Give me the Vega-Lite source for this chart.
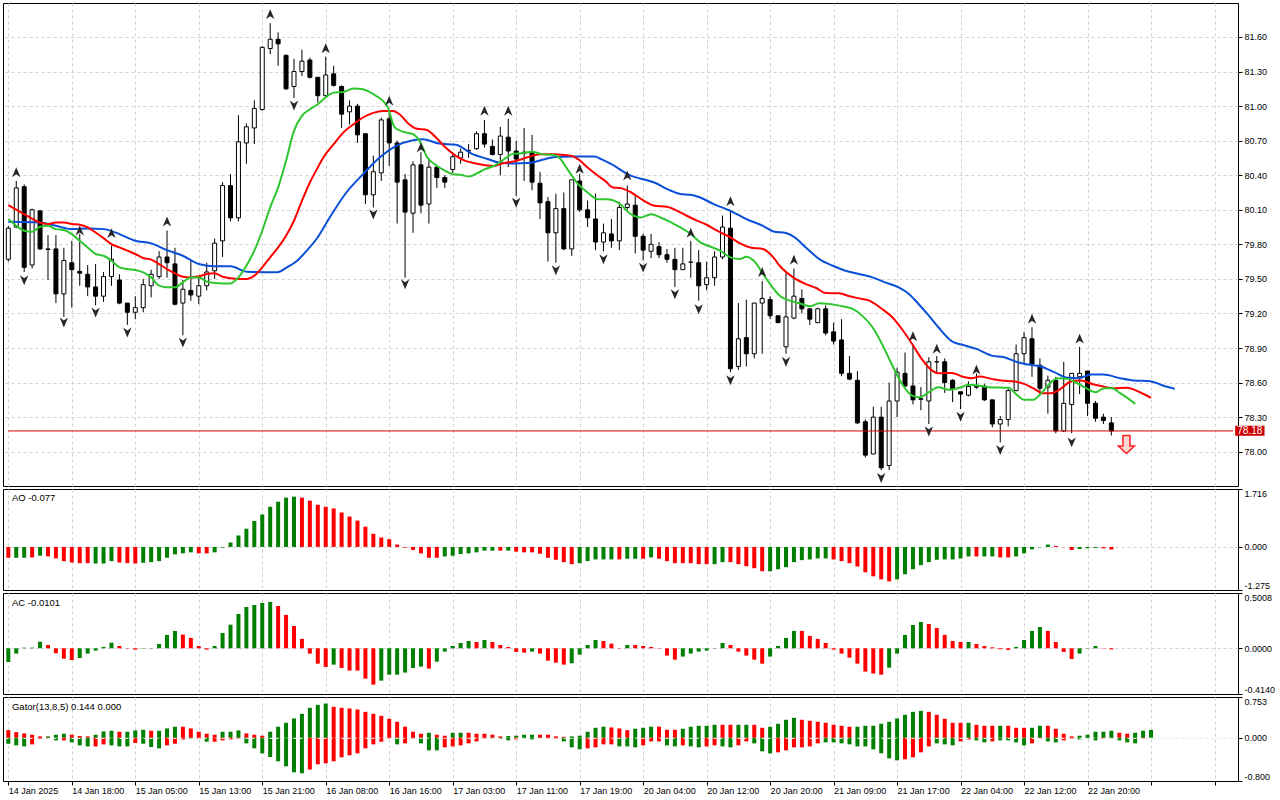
{
  "$schema": "https://vega.github.io/schema/vega-lite/v6.json",
  "background": "white",
  "padding": {"left": 2, "top": 2, "right": 0, "bottom": 0},
  "spacing": 3,
  "bounds": "flush",
  "resolve": {"scale": {"color": "independent", "shape": "independent", "x": "independent", "y": "independent"}},
  "datasets": {
    "candles": [
      {"k":0,"o":79.67,"h":79.96,"l":79.65,"c":79.94},{"k":1,"o":79.95,"h":80.35,"l":79.94,"c":80.29},{"k":2,"o":80.30,"h":80.32,"l":79.56,"c":79.60},{"k":3,"o":79.62,"h":80.11,"l":79.59,"c":80.10},
      {"k":4,"o":80.09,"h":80.10,"l":79.75,"c":79.76},{"k":5,"o":79.76,"h":79.88,"l":79.49,"c":79.755},{"k":6,"o":79.76,"h":79.88,"l":79.29,"c":79.37},{"k":7,"o":79.37,"h":79.77,"l":79.17,"c":79.66},
      {"k":8,"o":79.64,"h":79.83,"l":79.25,"c":79.58},{"k":9,"o":79.565,"h":79.89,"l":79.44,"c":79.55},{"k":10,"o":79.54,"h":79.62,"l":79.35,"c":79.43},{"k":11,"o":79.43,"h":79.63,"l":79.27,"c":79.35},
      {"k":12,"o":79.35,"h":79.56,"l":79.30,"c":79.52},{"k":13,"o":79.52,"h":79.79,"l":79.44,"c":79.67},{"k":14,"o":79.49,"h":79.54,"l":79.28,"c":79.29},{"k":15,"o":79.29,"h":79.29,"l":79.10,"c":79.21},
      {"k":16,"o":79.21,"h":79.35,"l":79.15,"c":79.25},{"k":17,"o":79.25,"h":79.50,"l":79.21,"c":79.45},{"k":18,"o":79.44,"h":79.58,"l":79.34,"c":79.54},{"k":19,"o":79.52,"h":79.74,"l":79.50,"c":79.69},
      {"k":20,"o":79.69,"h":79.92,"l":79.51,"c":79.64},{"k":21,"o":79.63,"h":79.77,"l":79.27,"c":79.28},{"k":22,"o":79.29,"h":79.49,"l":79.01,"c":79.41},{"k":23,"o":79.40,"h":79.66,"l":79.31,"c":79.36},
      {"k":24,"o":79.35,"h":79.52,"l":79.28,"c":79.44},{"k":25,"o":79.44,"h":79.64,"l":79.40,"c":79.56},{"k":26,"o":79.57,"h":79.85,"l":79.50,"c":79.81},{"k":27,"o":79.83,"h":80.34,"l":79.69,"c":80.31},
      {"k":28,"o":80.31,"h":80.41,"l":80.00,"c":80.03},{"k":29,"o":80.03,"h":80.92,"l":80.00,"c":80.69},{"k":30,"o":80.68,"h":80.85,"l":80.50,"c":80.82},{"k":31,"o":80.81,"h":81.05,"l":80.67,"c":80.98},
      {"k":32,"o":80.97,"h":81.52,"l":80.96,"c":81.51},{"k":33,"o":81.50,"h":81.72,"l":81.45,"c":81.58},{"k":34,"o":81.58,"h":81.64,"l":81.35,"c":81.54},{"k":35,"o":81.44,"h":81.45,"l":81.14,"c":81.15},
      {"k":36,"o":81.17,"h":81.41,"l":81.07,"c":81.30},{"k":37,"o":81.30,"h":81.49,"l":81.26,"c":81.39},{"k":38,"o":81.40,"h":81.42,"l":81.24,"c":81.25},{"k":39,"o":81.25,"h":81.25,"l":81.03,"c":81.09},
      {"k":40,"o":81.09,"h":81.43,"l":81.07,"c":81.27},{"k":41,"o":81.28,"h":81.35,"l":81.17,"c":81.18},{"k":42,"o":81.17,"h":81.18,"l":80.81,"c":80.93},{"k":43,"o":80.95,"h":81.05,"l":80.84,"c":81.00},
      {"k":44,"o":81.00,"h":81.02,"l":80.68,"c":80.75},{"k":45,"o":80.76,"h":80.76,"l":80.15,"c":80.23},{"k":46,"o":80.23,"h":80.57,"l":80.12,"c":80.43},{"k":47,"o":80.42,"h":80.90,"l":80.35,"c":80.88},
      {"k":48,"o":80.89,"h":80.97,"l":80.48,"c":80.68},{"k":49,"o":80.68,"h":80.70,"l":79.98,"c":80.34},{"k":50,"o":80.36,"h":80.41,"l":79.51,"c":80.08},{"k":51,"o":80.07,"h":80.52,"l":79.90,"c":80.49},
      {"k":52,"o":80.49,"h":80.60,"l":80.07,"c":80.14},{"k":53,"o":80.15,"h":80.55,"l":79.98,"c":80.47},{"k":54,"o":80.47,"h":80.47,"l":80.29,"c":80.38},{"k":55,"o":80.38,"h":80.40,"l":80.29,"c":80.34},
      {"k":56,"o":80.45,"h":80.60,"l":80.42,"c":80.56},{"k":57,"o":80.55,"h":80.63,"l":80.50,"c":80.60},{"k":58,"o":80.61,"h":80.67,"l":80.55,"c":80.615},{"k":59,"o":80.63,"h":80.78,"l":80.62,"c":80.76},
      {"k":60,"o":80.76,"h":80.88,"l":80.64,"c":80.67},{"k":61,"o":80.65,"h":80.71,"l":80.57,"c":80.58},{"k":62,"o":80.58,"h":80.82,"l":80.40,"c":80.74},{"k":63,"o":80.73,"h":80.89,"l":80.47,"c":80.61},
      {"k":64,"o":80.61,"h":80.70,"l":80.22,"c":80.54},{"k":65,"o":80.60,"h":80.81,"l":80.35,"c":80.59},{"k":66,"o":80.60,"h":80.75,"l":80.27,"c":80.34},{"k":67,"o":80.33,"h":80.43,"l":80.02,"c":80.16},
      {"k":68,"o":80.17,"h":80.21,"l":79.65,"c":79.90},{"k":69,"o":79.90,"h":80.24,"l":79.64,"c":80.11},{"k":70,"o":80.11,"h":80.25,"l":79.75,"c":79.76},{"k":71,"o":79.76,"h":80.36,"l":79.70,"c":80.36},
      {"k":72,"o":80.35,"h":80.41,"l":80.08,"c":80.10},{"k":73,"o":80.10,"h":80.18,"l":79.95,"c":80.03},{"k":74,"o":80.02,"h":80.24,"l":79.75,"c":79.82},{"k":75,"o":79.82,"h":79.98,"l":79.74,"c":79.90},
      {"k":76,"o":79.89,"h":80.02,"l":79.77,"c":79.83},{"k":77,"o":79.83,"h":80.17,"l":79.75,"c":80.12},{"k":78,"o":80.12,"h":80.31,"l":80.10,"c":80.15},{"k":79,"o":80.14,"h":80.22,"l":79.72,"c":79.87},
      {"k":80,"o":79.87,"h":79.89,"l":79.66,"c":79.75},{"k":81,"o":79.74,"h":79.89,"l":79.68,"c":79.80},{"k":82,"o":79.78,"h":79.82,"l":79.68,"c":79.71},{"k":83,"o":79.71,"h":79.76,"l":79.64,"c":79.67},
      {"k":84,"o":79.67,"h":79.77,"l":79.43,"c":79.58},{"k":85,"o":79.58,"h":79.77,"l":79.58,"c":79.63},{"k":86,"o":79.645,"h":79.83,"l":79.51,"c":79.645},{"k":87,"o":79.64,"h":79.75,"l":79.31,"c":79.44},
      {"k":88,"o":79.45,"h":79.65,"l":79.40,"c":79.51},{"k":89,"o":79.51,"h":79.74,"l":79.44,"c":79.69},{"k":90,"o":79.69,"h":80.05,"l":79.67,"c":79.95},{"k":91,"o":79.94,"h":80.10,"l":78.69,"c":78.72},
      {"k":92,"o":78.74,"h":79.29,"l":78.71,"c":78.98},{"k":93,"o":78.99,"h":79.32,"l":78.74,"c":78.85},{"k":94,"o":78.85,"h":79.29,"l":78.81,"c":79.29},{"k":95,"o":79.29,"h":79.48,"l":78.85,"c":79.33},
      {"k":96,"o":79.32,"h":79.35,"l":79.15,"c":79.18},{"k":97,"o":79.18,"h":79.18,"l":79.12,"c":79.12},{"k":98,"o":78.91,"h":79.55,"l":78.85,"c":79.17},{"k":99,"o":79.16,"h":79.59,"l":79.15,"c":79.35},
      {"k":100,"o":79.33,"h":79.41,"l":79.20,"c":79.24},{"k":101,"o":79.24,"h":79.24,"l":79.10,"c":79.15},{"k":102,"o":79.12,"h":79.25,"l":79.12,"c":79.24},{"k":103,"o":79.24,"h":79.27,"l":79.01,"c":79.03},
      {"k":104,"o":79.04,"h":79.12,"l":78.93,"c":78.96},{"k":105,"o":78.97,"h":79.15,"l":78.655,"c":78.68},{"k":106,"o":78.68,"h":78.83,"l":78.62,"c":78.63},{"k":107,"o":78.62,"h":78.70,"l":78.24,"c":78.25},
      {"k":108,"o":78.26,"h":78.28,"l":77.95,"c":77.97},{"k":109,"o":77.98,"h":78.39,"l":77.98,"c":78.30},{"k":110,"o":78.30,"h":78.39,"l":77.84,"c":77.86},{"k":111,"o":77.88,"h":78.60,"l":77.84,"c":78.44},
      {"k":112,"o":78.44,"h":78.73,"l":78.30,"c":78.69},{"k":113,"o":78.68,"h":78.86,"l":78.56,"c":78.57},{"k":114,"o":78.57,"h":78.92,"l":78.41,"c":78.45},{"k":115,"o":78.46,"h":78.56,"l":78.36,"c":78.455},
      {"k":116,"o":78.44,"h":78.82,"l":78.24,"c":78.78},{"k":117,"o":78.78,"h":78.83,"l":78.68,"c":78.78},{"k":118,"o":78.78,"h":78.81,"l":78.51,"c":78.60},{"k":119,"o":78.62,"h":78.63,"l":78.43,"c":78.545},
      {"k":120,"o":78.52,"h":78.52,"l":78.37,"c":78.50},{"k":121,"o":78.49,"h":78.61,"l":78.48,"c":78.565},{"k":122,"o":78.57,"h":78.68,"l":78.545,"c":78.56},{"k":123,"o":78.57,"h":78.59,"l":78.44,"c":78.45},
      {"k":124,"o":78.45,"h":78.45,"l":78.21,"c":78.24},{"k":125,"o":78.24,"h":78.31,"l":78.08,"c":78.28},{"k":126,"o":78.28,"h":78.545,"l":78.22,"c":78.53},{"k":127,"o":78.53,"h":78.93,"l":78.525,"c":78.85},
      {"k":128,"o":78.85,"h":79.04,"l":78.76,"c":78.99},{"k":129,"o":78.98,"h":79.08,"l":78.65,"c":78.76},{"k":130,"o":78.75,"h":78.81,"l":78.49,"c":78.55},{"k":131,"o":78.56,"h":78.66,"l":78.33,"c":78.62},
      {"k":132,"o":78.62,"h":78.65,"l":78.16,"c":78.18},{"k":133,"o":78.18,"h":78.78,"l":78.17,"c":78.42},{"k":134,"o":78.41,"h":78.68,"l":78.16,"c":78.68},{"k":135,"o":78.65,"h":78.91,"l":78.50,"c":78.68},
      {"k":136,"o":78.70,"h":78.70,"l":78.31,"c":78.42},{"k":137,"o":78.42,"h":78.44,"l":78.26,"c":78.29},{"k":138,"o":78.30,"h":78.33,"l":78.24,"c":78.27},{"k":139,"o":78.25,"h":78.30,"l":78.14,"c":78.18}
    ],
    "fractals": [
      {"k":1,"v":80.424,"t":"up"},{"k":9,"v":79.918,"t":"up"},{"k":13,"v":79.895,"t":"up"},{"k":20,"v":79.996,"t":"up"},{"k":33,"v":81.796,"t":"up"},
      {"k":40,"v":81.499,"t":"up"},{"k":48,"v":81.045,"t":"up"},{"k":52,"v":80.640,"t":"up"},{"k":60,"v":80.958,"t":"up"},{"k":63,"v":80.958,"t":"up"},
      {"k":72,"v":80.453,"t":"up"},{"k":78,"v":80.395,"t":"up"},{"k":86,"v":79.898,"t":"up"},{"k":91,"v":80.172,"t":"up"},{"k":95,"v":79.557,"t":"up"},
      {"k":99,"v":79.664,"t":"up"},{"k":114,"v":78.999,"t":"up"},{"k":117,"v":78.892,"t":"up"},{"k":122,"v":78.710,"t":"up"},{"k":129,"v":79.152,"t":"up"},{"k":135,"v":78.979,"t":"up"},
      {"k":2,"v":79.490,"t":"dn"},{"k":7,"v":79.123,"t":"dn"},{"k":11,"v":79.210,"t":"dn"},{"k":15,"v":79.036,"t":"dn"},{"k":22,"v":78.950,"t":"dn"},
      {"k":36,"v":81.007,"t":"dn"},{"k":46,"v":80.062,"t":"dn"},{"k":50,"v":79.455,"t":"dn"},{"k":64,"v":80.164,"t":"dn"},{"k":69,"v":79.577,"t":"dn"},
      {"k":75,"v":79.672,"t":"dn"},{"k":80,"v":79.600,"t":"dn"},{"k":84,"v":79.369,"t":"dn"},{"k":87,"v":79.239,"t":"dn"},{"k":91,"v":78.623,"t":"dn"},
      {"k":98,"v":78.782,"t":"dn"},{"k":110,"v":77.774,"t":"dn"},{"k":116,"v":78.178,"t":"dn"},{"k":120,"v":78.305,"t":"dn"},{"k":125,"v":78.016,"t":"dn"},{"k":134,"v":78.083,"t":"dn"}
    ],
    "alligator": [
      {"k":0,"v":79.996,"s":"jaw"},{"k":4,"v":79.990,"s":"jaw"},{"k":6,"v":79.961,"s":"jaw"},{"k":8,"v":79.932,"s":"jaw"},{"k":10,"v":79.938,"s":"jaw"},{"k":12,"v":79.932,"s":"jaw"},
      {"k":14,"v":79.889,"s":"jaw"},{"k":16,"v":79.831,"s":"jaw"},{"k":18,"v":79.808,"s":"jaw"},{"k":20,"v":79.750,"s":"jaw"},{"k":22,"v":79.701,"s":"jaw"},{"k":24,"v":79.629,"s":"jaw"},
      {"k":26,"v":79.609,"s":"jaw"},{"k":28,"v":79.609,"s":"jaw"},{"k":30.1,"v":79.562,"s":"jaw"},{"k":33.9,"v":79.557,"s":"jaw"},{"k":35.1,"v":79.600,"s":"jaw"},{"k":36.4,"v":79.658,"s":"jaw"},
      {"k":37.6,"v":79.745,"s":"jaw"},{"k":38.9,"v":79.853,"s":"jaw"},{"k":40.5,"v":80.033,"s":"jaw"},{"k":42.6,"v":80.250,"s":"jaw"},{"k":44.7,"v":80.409,"s":"jaw"},{"k":46.8,"v":80.554,"s":"jaw"},
      {"k":48.9,"v":80.655,"s":"jaw"},{"k":51.0,"v":80.704,"s":"jaw"},{"k":52.2,"v":80.713,"s":"jaw"},{"k":54.3,"v":80.675,"s":"jaw"},{"k":56.4,"v":80.664,"s":"jaw"},{"k":58.5,"v":80.583,"s":"jaw"},
      {"k":60.5,"v":80.539,"s":"jaw"},{"k":61.8,"v":80.510,"s":"jaw"},{"k":63.5,"v":80.502,"s":"jaw"},{"k":65.5,"v":80.505,"s":"jaw"},{"k":67.6,"v":80.539,"s":"jaw"},{"k":68.9,"v":80.559,"s":"jaw"},
      {"k":71.0,"v":80.562,"s":"jaw"},{"k":73.9,"v":80.562,"s":"jaw"},{"k":74.7,"v":80.539,"s":"jaw"},{"k":76.0,"v":80.496,"s":"jaw"},{"k":78.3,"v":80.400,"s":"jaw"},{"k":81.4,"v":80.337,"s":"jaw"},
      {"k":83.5,"v":80.265,"s":"jaw"},{"k":84.7,"v":80.236,"s":"jaw"},{"k":86.0,"v":80.230,"s":"jaw"},{"k":87.2,"v":80.207,"s":"jaw"},{"k":88.9,"v":80.149,"s":"jaw"},{"k":91.0,"v":80.091,"s":"jaw"},
      {"k":93.0,"v":80.019,"s":"jaw"},{"k":95.1,"v":79.961,"s":"jaw"},{"k":96.4,"v":79.912,"s":"jaw"},{"k":98.0,"v":79.898,"s":"jaw"},{"k":99.1,"v":79.860,"s":"jaw"},{"k":100.5,"v":79.773,"s":"jaw"},
      {"k":102.2,"v":79.672,"s":"jaw"},{"k":103.9,"v":79.614,"s":"jaw"},{"k":105.5,"v":79.571,"s":"jaw"},{"k":107.2,"v":79.542,"s":"jaw"},{"k":108.9,"v":79.513,"s":"jaw"},{"k":110.5,"v":79.470,"s":"jaw"},
      {"k":112.2,"v":79.427,"s":"jaw"},{"k":113.5,"v":79.369,"s":"jaw"},{"k":114.7,"v":79.282,"s":"jaw"},{"k":116.0,"v":79.181,"s":"jaw"},{"k":117.2,"v":79.080,"s":"jaw"},{"k":119.1,"v":78.950,"s":"jaw"},
      {"k":120.1,"v":78.930,"s":"jaw"},{"k":122.0,"v":78.892,"s":"jaw"},{"k":123.9,"v":78.834,"s":"jaw"},{"k":125.5,"v":78.820,"s":"jaw"},{"k":127.2,"v":78.776,"s":"jaw"},{"k":128.5,"v":78.756,"s":"jaw"},
      {"k":130.1,"v":78.739,"s":"jaw"},{"k":131.8,"v":78.690,"s":"jaw"},{"k":133.5,"v":78.641,"s":"jaw"},{"k":134.9,"v":78.638,"s":"jaw"},{"k":136.4,"v":78.669,"s":"jaw"},{"k":138.0,"v":78.669,"s":"jaw"},
      {"k":140.1,"v":78.638,"s":"jaw"},{"k":141.8,"v":78.618,"s":"jaw"},{"k":143.9,"v":78.612,"s":"jaw"},{"k":145.5,"v":78.574,"s":"jaw"},{"k":147.0,"v":78.545,"s":"jaw"},

      {"k":0,"v":80.140,"s":"teeth"},{"k":2,"v":80.062,"s":"teeth"},{"k":4,"v":79.990,"s":"teeth"},{"k":5,"v":79.976,"s":"teeth"},{"k":6,"v":79.990,"s":"teeth"},{"k":7,"v":79.990,"s":"teeth"},
      {"k":8,"v":79.976,"s":"teeth"},{"k":9,"v":79.970,"s":"teeth"},{"k":10,"v":79.947,"s":"teeth"},{"k":11,"v":79.903,"s":"teeth"},{"k":12,"v":79.854,"s":"teeth"},{"k":13,"v":79.802,"s":"teeth"},
      {"k":14,"v":79.773,"s":"teeth"},{"k":15,"v":79.745,"s":"teeth"},{"k":16,"v":79.716,"s":"teeth"},{"k":17,"v":79.681,"s":"teeth"},{"k":18,"v":79.667,"s":"teeth"},{"k":19,"v":79.629,"s":"teeth"},
      {"k":20,"v":79.585,"s":"teeth"},{"k":21,"v":79.548,"s":"teeth"},{"k":22,"v":79.519,"s":"teeth"},{"k":23,"v":79.513,"s":"teeth"},{"k":24,"v":79.522,"s":"teeth"},{"k":25,"v":79.542,"s":"teeth"},
      {"k":26,"v":79.548,"s":"teeth"},{"k":27,"v":79.519,"s":"teeth"},{"k":28,"v":79.505,"s":"teeth"},{"k":29,"v":79.499,"s":"teeth"},{"k":30,"v":79.499,"s":"teeth"},{"k":31,"v":79.528,"s":"teeth"},
      {"k":32,"v":79.600,"s":"teeth"},{"k":33,"v":79.687,"s":"teeth"},{"k":34,"v":79.773,"s":"teeth"},{"k":35,"v":79.875,"s":"teeth"},{"k":36,"v":80.005,"s":"teeth"},{"k":37,"v":80.178,"s":"teeth"},
      {"k":38,"v":80.337,"s":"teeth"},{"k":39,"v":80.467,"s":"teeth"},{"k":39.7,"v":80.554,"s":"teeth"},{"k":41.0,"v":80.669,"s":"teeth"},{"k":42.2,"v":80.770,"s":"teeth"},{"k":43.5,"v":80.843,"s":"teeth"},
      {"k":44.7,"v":80.901,"s":"teeth"},{"k":46.0,"v":80.941,"s":"teeth"},{"k":47.2,"v":80.958,"s":"teeth"},{"k":48.5,"v":80.958,"s":"teeth"},{"k":49.3,"v":80.929,"s":"teeth"},{"k":50.5,"v":80.843,"s":"teeth"},
      {"k":51.4,"v":80.805,"s":"teeth"},{"k":52.8,"v":80.791,"s":"teeth"},{"k":53.9,"v":80.727,"s":"teeth"},{"k":55.1,"v":80.640,"s":"teeth"},{"k":56.4,"v":80.568,"s":"teeth"},{"k":57.6,"v":80.525,"s":"teeth"},
      {"k":58.9,"v":80.502,"s":"teeth"},{"k":60.1,"v":80.487,"s":"teeth"},{"k":61.2,"v":80.481,"s":"teeth"},{"k":62.2,"v":80.502,"s":"teeth"},{"k":63.5,"v":80.516,"s":"teeth"},{"k":64.7,"v":80.539,"s":"teeth"},
      {"k":66.0,"v":80.568,"s":"teeth"},{"k":67.2,"v":80.583,"s":"teeth"},{"k":68.5,"v":80.583,"s":"teeth"},{"k":69.7,"v":80.577,"s":"teeth"},{"k":71.0,"v":80.568,"s":"teeth"},{"k":71.8,"v":80.539,"s":"teeth"},
      {"k":73.0,"v":80.467,"s":"teeth"},{"k":74.3,"v":80.395,"s":"teeth"},{"k":75.2,"v":80.351,"s":"teeth"},{"k":76.2,"v":80.294,"s":"teeth"},{"k":77.2,"v":80.288,"s":"teeth"},{"k":78.5,"v":80.250,"s":"teeth"},
      {"k":80.1,"v":80.178,"s":"teeth"},{"k":81.4,"v":80.135,"s":"teeth"},{"k":83.0,"v":80.126,"s":"teeth"},{"k":84.3,"v":80.091,"s":"teeth"},{"k":85.5,"v":80.048,"s":"teeth"},{"k":86.8,"v":80.005,"s":"teeth"},
      {"k":88.0,"v":79.970,"s":"teeth"},{"k":89.3,"v":79.918,"s":"teeth"},{"k":91.0,"v":79.860,"s":"teeth"},{"k":92.2,"v":79.808,"s":"teeth"},{"k":93.5,"v":79.773,"s":"teeth"},{"k":95.1,"v":79.759,"s":"teeth"},
      {"k":96.4,"v":79.687,"s":"teeth"},{"k":97.2,"v":79.614,"s":"teeth"},{"k":98.9,"v":79.513,"s":"teeth"},{"k":100.5,"v":79.455,"s":"teeth"},{"k":101.8,"v":79.421,"s":"teeth"},{"k":103.0,"v":79.377,"s":"teeth"},
      {"k":104.7,"v":79.375,"s":"teeth"},{"k":106.0,"v":79.349,"s":"teeth"},{"k":107.2,"v":79.331,"s":"teeth"},{"k":108.5,"v":79.311,"s":"teeth"},{"k":110.1,"v":79.239,"s":"teeth"},{"k":111.4,"v":79.167,"s":"teeth"},
      {"k":112.6,"v":79.065,"s":"teeth"},{"k":113.9,"v":78.935,"s":"teeth"},{"k":115.1,"v":78.805,"s":"teeth"},{"k":116.4,"v":78.704,"s":"teeth"},{"k":117.2,"v":78.681,"s":"teeth"},{"k":118.9,"v":78.684,"s":"teeth"},
      {"k":120.1,"v":78.655,"s":"teeth"},{"k":121.4,"v":78.638,"s":"teeth"},{"k":122.4,"v":78.652,"s":"teeth"},{"k":123.9,"v":78.632,"s":"teeth"},{"k":125.1,"v":78.618,"s":"teeth"},{"k":126.8,"v":78.609,"s":"teeth"},
      {"k":128.0,"v":78.589,"s":"teeth"},{"k":129.3,"v":78.545,"s":"teeth"},{"k":130.3,"v":78.508,"s":"teeth"},{"k":131.4,"v":78.508,"s":"teeth"},{"k":132.6,"v":78.545,"s":"teeth"},{"k":133.9,"v":78.609,"s":"teeth"},
      {"k":135.1,"v":78.618,"s":"teeth"},{"k":136.8,"v":78.583,"s":"teeth"},{"k":138.0,"v":78.565,"s":"teeth"},{"k":139.3,"v":78.551,"s":"teeth"},{"k":140.9,"v":78.554,"s":"teeth"},{"k":142.6,"v":78.516,"s":"teeth"},
      {"k":144.0,"v":78.467,"s":"teeth"},

      {"k":0,"v":80.019,"s":"lips"},{"k":1,"v":79.961,"s":"lips"},{"k":2,"v":79.918,"s":"lips"},{"k":3,"v":79.909,"s":"lips"},{"k":4,"v":79.953,"s":"lips"},{"k":5,"v":79.961,"s":"lips"},
      {"k":6,"v":79.932,"s":"lips"},{"k":7,"v":79.924,"s":"lips"},{"k":8,"v":79.889,"s":"lips"},{"k":9,"v":79.831,"s":"lips"},{"k":10,"v":79.773,"s":"lips"},{"k":11,"v":79.716,"s":"lips"},
      {"k":12,"v":79.701,"s":"lips"},{"k":13,"v":79.658,"s":"lips"},{"k":14,"v":79.600,"s":"lips"},{"k":15,"v":79.585,"s":"lips"},{"k":16,"v":79.577,"s":"lips"},{"k":17,"v":79.557,"s":"lips"},
      {"k":18,"v":79.513,"s":"lips"},{"k":19,"v":79.441,"s":"lips"},{"k":20,"v":79.427,"s":"lips"},{"k":21,"v":79.427,"s":"lips"},{"k":22,"v":79.470,"s":"lips"},{"k":23,"v":79.513,"s":"lips"},
      {"k":24,"v":79.513,"s":"lips"},{"k":25,"v":79.476,"s":"lips"},{"k":26,"v":79.464,"s":"lips"},{"k":27,"v":79.461,"s":"lips"},{"k":28,"v":79.461,"s":"lips"},{"k":29,"v":79.513,"s":"lips"},
      {"k":30,"v":79.614,"s":"lips"},{"k":31,"v":79.745,"s":"lips"},{"k":32,"v":79.918,"s":"lips"},{"k":33,"v":80.120,"s":"lips"},{"k":34,"v":80.294,"s":"lips"},{"k":35,"v":80.525,"s":"lips"},
      {"k":36,"v":80.785,"s":"lips"},{"k":37,"v":80.915,"s":"lips"},{"k":38,"v":80.973,"s":"lips"},{"k":39,"v":81.016,"s":"lips"},{"k":39.7,"v":81.059,"s":"lips"},{"k":41.0,"v":81.117,"s":"lips"},
      {"k":42.2,"v":81.123,"s":"lips"},{"k":43.5,"v":81.152,"s":"lips"},{"k":44.7,"v":81.146,"s":"lips"},{"k":46.0,"v":81.103,"s":"lips"},{"k":47.2,"v":81.045,"s":"lips"},{"k":47.8,"v":80.993,"s":"lips"},
      {"k":48.7,"v":80.814,"s":"lips"},{"k":49.7,"v":80.779,"s":"lips"},{"k":51.0,"v":80.756,"s":"lips"},{"k":51.8,"v":80.698,"s":"lips"},{"k":52.8,"v":80.554,"s":"lips"},{"k":53.9,"v":80.487,"s":"lips"},
      {"k":54.9,"v":80.444,"s":"lips"},{"k":56.0,"v":80.409,"s":"lips"},{"k":57.0,"v":80.403,"s":"lips"},{"k":58.1,"v":80.389,"s":"lips"},{"k":59.1,"v":80.418,"s":"lips"},{"k":60.1,"v":80.453,"s":"lips"},
      {"k":61.2,"v":80.481,"s":"lips"},{"k":62.2,"v":80.525,"s":"lips"},{"k":63.5,"v":80.583,"s":"lips"},{"k":64.7,"v":80.591,"s":"lips"},{"k":66.0,"v":80.603,"s":"lips"},{"k":67.2,"v":80.583,"s":"lips"},
      {"k":68.5,"v":80.577,"s":"lips"},{"k":69.3,"v":80.559,"s":"lips"},{"k":70.6,"v":80.438,"s":"lips"},{"k":71.8,"v":80.323,"s":"lips"},{"k":73.0,"v":80.250,"s":"lips"},{"k":74.3,"v":80.192,"s":"lips"},
      {"k":75.5,"v":80.192,"s":"lips"},{"k":76.8,"v":80.164,"s":"lips"},{"k":78.5,"v":80.060,"s":"lips"},{"k":79.7,"v":80.033,"s":"lips"},{"k":81.0,"v":80.062,"s":"lips"},{"k":82.2,"v":80.033,"s":"lips"},
      {"k":83.5,"v":79.990,"s":"lips"},{"k":84.7,"v":79.947,"s":"lips"},{"k":86.0,"v":79.889,"s":"lips"},{"k":87.2,"v":79.817,"s":"lips"},{"k":88.5,"v":79.779,"s":"lips"},{"k":89.7,"v":79.745,"s":"lips"},
      {"k":91.0,"v":79.687,"s":"lips"},{"k":92.2,"v":79.672,"s":"lips"},{"k":93.0,"v":79.692,"s":"lips"},{"k":94.3,"v":79.629,"s":"lips"},{"k":95.1,"v":79.542,"s":"lips"},{"k":96.0,"v":79.455,"s":"lips"},
      {"k":97.2,"v":79.354,"s":"lips"},{"k":98.5,"v":79.311,"s":"lips"},{"k":99.7,"v":79.288,"s":"lips"},{"k":101.0,"v":79.262,"s":"lips"},{"k":102.2,"v":79.288,"s":"lips"},{"k":103.5,"v":79.282,"s":"lips"},
      {"k":104.7,"v":79.268,"s":"lips"},{"k":106.4,"v":79.239,"s":"lips"},{"k":107.6,"v":79.181,"s":"lips"},{"k":108.9,"v":79.080,"s":"lips"},{"k":110.1,"v":78.935,"s":"lips"},{"k":111.4,"v":78.748,"s":"lips"},
      {"k":112.6,"v":78.589,"s":"lips"},{"k":113.9,"v":78.487,"s":"lips"},{"k":114.9,"v":78.473,"s":"lips"},{"k":116.0,"v":78.516,"s":"lips"},{"k":117.2,"v":78.560,"s":"lips"},{"k":118.5,"v":78.537,"s":"lips"},
      {"k":120.1,"v":78.560,"s":"lips"},{"k":121.0,"v":78.580,"s":"lips"},{"k":122.2,"v":78.574,"s":"lips"},{"k":123.5,"v":78.560,"s":"lips"},{"k":126.0,"v":78.554,"s":"lips"},{"k":127.2,"v":78.487,"s":"lips"},
      {"k":128.0,"v":78.450,"s":"lips"},{"k":129.1,"v":78.450,"s":"lips"},{"k":129.9,"v":78.487,"s":"lips"},{"k":131.0,"v":78.574,"s":"lips"},{"k":132.2,"v":78.638,"s":"lips"},{"k":133.5,"v":78.632,"s":"lips"},
      {"k":134.7,"v":78.594,"s":"lips"},{"k":136.0,"v":78.545,"s":"lips"},{"k":137.0,"v":78.516,"s":"lips"},{"k":138.1,"v":78.551,"s":"lips"},{"k":139.1,"v":78.551,"s":"lips"},{"k":140.1,"v":78.508,"s":"lips"},
      {"k":141.0,"v":78.467,"s":"lips"},{"k":142.0,"v":78.415,"s":"lips"}
    ],
    "price": [{"p":78.18,"label":"78.18"}],
    "signal": [{"k":140.9,"v":78.062}],
    "ao": [
      {"k":0,"v":-0.32,"d":"r"},{"k":1,"v":-0.32,"d":"g"},{"k":2,"v":-0.32,"d":"g"},{"k":3,"v":-0.31,"d":"r"},{"k":4,"v":-0.26,"d":"g"},{"k":5,"v":-0.28,"d":"r"},{"k":6,"v":-0.34,"d":"r"},{"k":7,"v":-0.42,"d":"r"},
      {"k":8,"v":-0.46,"d":"r"},{"k":9,"v":-0.48,"d":"r"},{"k":10,"v":-0.48,"d":"r"},{"k":11,"v":-0.49,"d":"g"},{"k":12,"v":-0.49,"d":"g"},{"k":13,"v":-0.42,"d":"g"},{"k":14,"v":-0.46,"d":"r"},{"k":15,"v":-0.48,"d":"r"},
      {"k":16,"v":-0.49,"d":"r"},{"k":17,"v":-0.47,"d":"g"},{"k":18,"v":-0.45,"d":"g"},{"k":19,"v":-0.42,"d":"g"},{"k":20,"v":-0.32,"d":"g"},{"k":21,"v":-0.22,"d":"g"},{"k":22,"v":-0.19,"d":"g"},{"k":23,"v":-0.16,"d":"g"},
      {"k":24,"v":-0.19,"d":"r"},{"k":25,"v":-0.19,"d":"r"},{"k":26,"v":-0.16,"d":"g"},{"k":27,"v":-0.02,"d":"g"},{"k":28,"v":0.13,"d":"g"},{"k":29,"v":0.34,"d":"g"},{"k":30,"v":0.54,"d":"g"},{"k":31,"v":0.77,"d":"g"},
      {"k":32,"v":0.96,"d":"g"},{"k":33,"v":1.19,"d":"g"},{"k":34,"v":1.34,"d":"g"},{"k":35,"v":1.46,"d":"g"},{"k":36,"v":1.49,"d":"g"},{"k":37,"v":1.46,"d":"r"},{"k":38,"v":1.37,"d":"r"},{"k":39,"v":1.25,"d":"r"},
      {"k":40,"v":1.19,"d":"r"},{"k":41,"v":1.14,"d":"r"},{"k":42,"v":1.02,"d":"r"},{"k":43,"v":0.90,"d":"r"},{"k":44,"v":0.78,"d":"r"},{"k":45,"v":0.60,"d":"r"},{"k":46,"v":0.39,"d":"r"},{"k":47,"v":0.28,"d":"r"},
      {"k":48,"v":0.23,"d":"r"},{"k":49,"v":0.07,"d":"r"},{"k":50,"v":-0.02,"d":"r"},{"k":51,"v":-0.09,"d":"r"},{"k":52,"v":-0.19,"d":"r"},{"k":53,"v":-0.32,"d":"r"},{"k":54,"v":-0.32,"d":"r"},{"k":55,"v":-0.28,"d":"g"},
      {"k":56,"v":-0.26,"d":"g"},{"k":57,"v":-0.21,"d":"g"},{"k":58,"v":-0.19,"d":"g"},{"k":59,"v":-0.16,"d":"g"},{"k":60,"v":-0.11,"d":"g"},{"k":61,"v":-0.11,"d":"g"},{"k":62,"v":-0.11,"d":"r"},{"k":63,"v":-0.11,"d":"g"},
      {"k":64,"v":-0.14,"d":"r"},{"k":65,"v":-0.16,"d":"r"},{"k":66,"v":-0.16,"d":"r"},{"k":67,"v":-0.20,"d":"r"},{"k":68,"v":-0.32,"d":"r"},{"k":69,"v":-0.38,"d":"r"},{"k":70,"v":-0.45,"d":"r"},{"k":71,"v":-0.51,"d":"r"},
      {"k":72,"v":-0.48,"d":"g"},{"k":73,"v":-0.42,"d":"g"},{"k":74,"v":-0.37,"d":"g"},{"k":75,"v":-0.37,"d":"g"},{"k":76,"v":-0.37,"d":"g"},{"k":77,"v":-0.37,"d":"r"},{"k":78,"v":-0.35,"d":"g"},{"k":79,"v":-0.35,"d":"g"},
      {"k":80,"v":-0.35,"d":"r"},{"k":81,"v":-0.31,"d":"g"},{"k":82,"v":-0.35,"d":"r"},{"k":83,"v":-0.42,"d":"r"},{"k":84,"v":-0.48,"d":"r"},{"k":85,"v":-0.48,"d":"r"},{"k":86,"v":-0.48,"d":"r"},{"k":87,"v":-0.51,"d":"r"},
      {"k":88,"v":-0.51,"d":"r"},{"k":89,"v":-0.51,"d":"g"},{"k":90,"v":-0.45,"d":"g"},{"k":91,"v":-0.45,"d":"r"},{"k":92,"v":-0.51,"d":"r"},{"k":93,"v":-0.57,"d":"r"},{"k":94,"v":-0.63,"d":"r"},{"k":95,"v":-0.72,"d":"r"},
      {"k":96,"v":-0.72,"d":"g"},{"k":97,"v":-0.66,"d":"g"},{"k":98,"v":-0.60,"d":"g"},{"k":99,"v":-0.45,"d":"g"},{"k":100,"v":-0.39,"d":"g"},{"k":101,"v":-0.37,"d":"g"},{"k":102,"v":-0.34,"d":"g"},{"k":103,"v":-0.34,"d":"g"},
      {"k":104,"v":-0.37,"d":"r"},{"k":105,"v":-0.42,"d":"r"},{"k":106,"v":-0.48,"d":"r"},{"k":107,"v":-0.58,"d":"r"},{"k":108,"v":-0.75,"d":"r"},{"k":109,"v":-0.87,"d":"r"},{"k":110,"v":-0.96,"d":"r"},{"k":111,"v":-1.02,"d":"r"},
      {"k":112,"v":-0.96,"d":"g"},{"k":113,"v":-0.81,"d":"g"},{"k":114,"v":-0.66,"d":"g"},{"k":115,"v":-0.54,"d":"g"},{"k":116,"v":-0.45,"d":"g"},{"k":117,"v":-0.38,"d":"g"},{"k":118,"v":-0.37,"d":"g"},{"k":119,"v":-0.37,"d":"g"},
      {"k":120,"v":-0.34,"d":"g"},{"k":121,"v":-0.28,"d":"g"},{"k":122,"v":-0.28,"d":"r"},{"k":123,"v":-0.28,"d":"g"},{"k":124,"v":-0.28,"d":"g"},{"k":125,"v":-0.31,"d":"r"},{"k":126,"v":-0.31,"d":"r"},{"k":127,"v":-0.28,"d":"g"},
      {"k":128,"v":-0.19,"d":"g"},{"k":129,"v":-0.07,"d":"g"},{"k":130,"v":-0.01,"d":"g"},{"k":131,"v":0.07,"d":"g"},{"k":132,"v":0.03,"d":"r"},{"k":133,"v":-0.005,"d":"r"},{"k":134,"v":-0.09,"d":"r"},{"k":135,"v":-0.06,"d":"g"},
      {"k":136,"v":-0.04,"d":"g"},{"k":137,"v":-0.03,"d":"g"},{"k":138,"v":-0.04,"d":"r"},{"k":139,"v":-0.077,"d":"r"}
    ],
    "ac": [
      {"k":0,"v":-0.124,"d":"g"},{"k":1,"v":-0.048,"d":"g"},{"k":2,"v":0.006,"d":"g"},{"k":3,"v":0.006,"d":"g"},{"k":4,"v":0.060,"d":"g"},{"k":5,"v":0.030,"d":"r"},{"k":6,"v":-0.045,"d":"r"},{"k":7,"v":-0.094,"d":"r"},
      {"k":8,"v":-0.106,"d":"r"},{"k":9,"v":-0.088,"d":"g"},{"k":10,"v":-0.048,"d":"g"},{"k":11,"v":-0.021,"d":"g"},{"k":12,"v":0.012,"d":"g"},{"k":13,"v":0.051,"d":"g"},{"k":14,"v":0.021,"d":"r"},{"k":15,"v":-0.003,"d":"r"},
      {"k":16,"v":-0.012,"d":"r"},{"k":17,"v":-0.003,"d":"g"},{"k":18,"v":0.003,"d":"g"},{"k":19,"v":0.039,"d":"g"},{"k":20,"v":0.121,"d":"g"},{"k":21,"v":0.157,"d":"g"},{"k":22,"v":0.124,"d":"r"},{"k":23,"v":0.094,"d":"r"},
      {"k":24,"v":0.021,"d":"r"},{"k":25,"v":-0.012,"d":"r"},{"k":26,"v":0.021,"d":"g"},{"k":27,"v":0.139,"d":"g"},{"k":28,"v":0.214,"d":"g"},{"k":29,"v":0.311,"d":"g"},{"k":30,"v":0.374,"d":"g"},{"k":31,"v":0.392,"d":"g"},
      {"k":32,"v":0.411,"d":"g"},{"k":33,"v":0.420,"d":"g"},{"k":34,"v":0.383,"d":"r"},{"k":35,"v":0.302,"d":"r"},{"k":36,"v":0.202,"d":"r"},{"k":37,"v":0.085,"d":"r"},{"k":38,"v":-0.048,"d":"r"},{"k":39,"v":-0.139,"d":"r"},
      {"k":40,"v":-0.169,"d":"r"},{"k":41,"v":-0.148,"d":"g"},{"k":42,"v":-0.178,"d":"r"},{"k":43,"v":-0.202,"d":"r"},{"k":44,"v":-0.202,"d":"r"},{"k":45,"v":-0.275,"d":"r"},{"k":46,"v":-0.329,"d":"r"},{"k":47,"v":-0.293,"d":"g"},
      {"k":48,"v":-0.239,"d":"g"},{"k":49,"v":-0.239,"d":"g"},{"k":50,"v":-0.220,"d":"g"},{"k":51,"v":-0.178,"d":"g"},{"k":52,"v":-0.166,"d":"g"},{"k":53,"v":-0.184,"d":"r"},{"k":54,"v":-0.121,"d":"g"},{"k":55,"v":-0.030,"d":"g"},
      {"k":56,"v":0.021,"d":"g"},{"k":57,"v":0.048,"d":"g"},{"k":58,"v":0.066,"d":"g"},{"k":59,"v":0.057,"d":"r"},{"k":60,"v":0.075,"d":"g"},{"k":61,"v":0.057,"d":"r"},{"k":62,"v":0.030,"d":"r"},{"k":63,"v":0.012,"d":"r"},
      {"k":64,"v":-0.033,"d":"r"},{"k":65,"v":-0.039,"d":"r"},{"k":66,"v":-0.030,"d":"g"},{"k":67,"v":-0.048,"d":"r"},{"k":68,"v":-0.112,"d":"r"},{"k":69,"v":-0.130,"d":"r"},{"k":70,"v":-0.148,"d":"r"},{"k":71,"v":-0.136,"d":"g"},
      {"k":72,"v":-0.057,"d":"g"},{"k":73,"v":0.030,"d":"g"},{"k":74,"v":0.075,"d":"g"},{"k":75,"v":0.066,"d":"r"},{"k":76,"v":0.042,"d":"r"},{"k":77,"v":-0.003,"d":"r"},{"k":78,"v":0.030,"d":"g"},{"k":79,"v":0.030,"d":"r"},
      {"k":80,"v":0.021,"d":"r"},{"k":81,"v":0.012,"d":"r"},{"k":82,"v":-0.003,"d":"r"},{"k":83,"v":-0.066,"d":"r"},{"k":84,"v":-0.103,"d":"r"},{"k":85,"v":-0.075,"d":"g"},{"k":86,"v":-0.048,"d":"g"},{"k":87,"v":-0.030,"d":"g"},
      {"k":88,"v":-0.021,"d":"g"},{"k":89,"v":0.003,"d":"g"},{"k":90,"v":0.048,"d":"g"},{"k":91,"v":0.030,"d":"r"},{"k":92,"v":-0.030,"d":"r"},{"k":93,"v":-0.066,"d":"r"},{"k":94,"v":-0.103,"d":"r"},{"k":95,"v":-0.139,"d":"r"},
      {"k":96,"v":-0.075,"d":"g"},{"k":97,"v":0.021,"d":"g"},{"k":98,"v":0.094,"d":"g"},{"k":99,"v":0.157,"d":"g"},{"k":100,"v":0.157,"d":"r"},{"k":101,"v":0.112,"d":"r"},{"k":102,"v":0.085,"d":"r"},{"k":103,"v":0.048,"d":"r"},
      {"k":104,"v":-0.012,"d":"r"},{"k":105,"v":-0.048,"d":"r"},{"k":106,"v":-0.085,"d":"r"},{"k":107,"v":-0.139,"d":"r"},{"k":108,"v":-0.211,"d":"r"},{"k":109,"v":-0.229,"d":"r"},{"k":110,"v":-0.239,"d":"r"},{"k":111,"v":-0.175,"d":"g"},
      {"k":112,"v":-0.048,"d":"g"},{"k":113,"v":0.121,"d":"g"},{"k":114,"v":0.211,"d":"g"},{"k":115,"v":0.238,"d":"g"},{"k":116,"v":0.220,"d":"r"},{"k":117,"v":0.184,"d":"r"},{"k":118,"v":0.121,"d":"r"},{"k":119,"v":0.066,"d":"r"},
      {"k":120,"v":0.057,"d":"r"},{"k":121,"v":0.057,"d":"g"},{"k":122,"v":0.039,"d":"r"},{"k":123,"v":0.021,"d":"r"},{"k":124,"v":0.009,"d":"r"},{"k":125,"v":-0.009,"d":"r"},{"k":126,"v":-0.015,"d":"r"},{"k":127,"v":0.012,"d":"g"},
      {"k":128,"v":0.075,"d":"g"},{"k":129,"v":0.157,"d":"g"},{"k":130,"v":0.193,"d":"g"},{"k":131,"v":0.157,"d":"r"},{"k":132,"v":0.057,"d":"r"},{"k":133,"v":-0.033,"d":"r"},{"k":134,"v":-0.097,"d":"r"},{"k":135,"v":-0.048,"d":"g"},
      {"k":136,"v":0.003,"d":"g"},{"k":137,"v":0.021,"d":"g"},{"k":138,"v":-0.003,"d":"r"},{"k":139,"v":-0.0101,"d":"r"}
    ],
    "gator": [
      {"k":0,"v":0.141,"d":"r"},{"k":0,"v":-0.111,"d":"g"},{"k":1,"v":0.104,"d":"r"},{"k":1,"v":-0.141,"d":"g"},{"k":2,"v":0.080,"d":"r"},{"k":2,"v":-0.160,"d":"g"},{"k":3,"v":0.055,"d":"r"},{"k":3,"v":-0.123,"d":"r"},
      {"k":4,"v":0.025,"d":"r"},{"k":4,"v":-0.018,"d":"r"},{"k":5,"v":0.025,"d":"g"},{"k":5,"v":-0.012,"d":"r"},{"k":6,"v":0.055,"d":"g"},{"k":6,"v":-0.049,"d":"g"},{"k":7,"v":0.074,"d":"g"},{"k":7,"v":-0.049,"d":"r"},
      {"k":8,"v":0.055,"d":"r"},{"k":8,"v":-0.086,"d":"g"},{"k":9,"v":0.031,"d":"r"},{"k":9,"v":-0.141,"d":"g"},{"k":10,"v":0.025,"d":"r"},{"k":10,"v":-0.160,"d":"g"},{"k":11,"v":0.055,"d":"g"},{"k":11,"v":-0.160,"d":"r"},
      {"k":12,"v":0.117,"d":"g"},{"k":12,"v":-0.123,"d":"r"},{"k":13,"v":0.129,"d":"g"},{"k":13,"v":-0.141,"d":"g"},{"k":14,"v":0.111,"d":"r"},{"k":14,"v":-0.160,"d":"g"},{"k":15,"v":0.111,"d":"g"},{"k":15,"v":-0.160,"d":"g"},
      {"k":16,"v":0.135,"d":"g"},{"k":16,"v":-0.098,"d":"r"},{"k":17,"v":0.147,"d":"g"},{"k":17,"v":-0.111,"d":"g"},{"k":18,"v":0.129,"d":"r"},{"k":18,"v":-0.172,"d":"g"},{"k":19,"v":0.129,"d":"g"},{"k":19,"v":-0.196,"d":"g"},
      {"k":20,"v":0.172,"d":"g"},{"k":20,"v":-0.141,"d":"r"},{"k":21,"v":0.203,"d":"g"},{"k":21,"v":-0.111,"d":"r"},{"k":22,"v":0.203,"d":"r"},{"k":22,"v":-0.031,"d":"r"},{"k":23,"v":0.172,"d":"r"},{"k":23,"v":-0.012,"d":"g"},
      {"k":24,"v":0.111,"d":"r"},{"k":24,"v":-0.018,"d":"r"},{"k":25,"v":0.074,"d":"r"},{"k":25,"v":-0.074,"d":"g"},{"k":26,"v":0.055,"d":"r"},{"k":26,"v":-0.074,"d":"r"},{"k":27,"v":0.111,"d":"g"},{"k":27,"v":-0.049,"d":"r"},
      {"k":28,"v":0.111,"d":"g"},{"k":28,"v":-0.031,"d":"r"},{"k":29,"v":0.135,"d":"g"},{"k":29,"v":-0.012,"d":"r"},{"k":30,"v":0.080,"d":"r"},{"k":30,"v":-0.104,"d":"g"},{"k":31,"v":0.055,"d":"r"},{"k":31,"v":-0.196,"d":"g"},
      {"k":32,"v":0.037,"d":"r"},{"k":32,"v":-0.289,"d":"g"},{"k":33,"v":0.111,"d":"g"},{"k":33,"v":-0.356,"d":"g"},{"k":34,"v":0.203,"d":"g"},{"k":34,"v":-0.436,"d":"g"},{"k":35,"v":0.276,"d":"g"},{"k":35,"v":-0.528,"d":"g"},
      {"k":36,"v":0.356,"d":"g"},{"k":36,"v":-0.639,"d":"g"},{"k":37,"v":0.442,"d":"g"},{"k":37,"v":-0.657,"d":"g"},{"k":38,"v":0.553,"d":"g"},{"k":38,"v":-0.589,"d":"r"},{"k":39,"v":0.608,"d":"g"},{"k":39,"v":-0.491,"d":"r"},
      {"k":40,"v":0.632,"d":"g"},{"k":40,"v":-0.473,"d":"r"},{"k":41,"v":0.571,"d":"r"},{"k":41,"v":-0.436,"d":"r"},{"k":42,"v":0.553,"d":"r"},{"k":42,"v":-0.362,"d":"r"},{"k":43,"v":0.540,"d":"r"},{"k":43,"v":-0.325,"d":"r"},
      {"k":44,"v":0.522,"d":"r"},{"k":44,"v":-0.289,"d":"r"},{"k":45,"v":0.479,"d":"r"},{"k":45,"v":-0.196,"d":"r"},{"k":46,"v":0.442,"d":"r"},{"k":46,"v":-0.123,"d":"r"},{"k":47,"v":0.405,"d":"r"},{"k":47,"v":-0.074,"d":"r"},
      {"k":48,"v":0.350,"d":"r"},{"k":48,"v":-0.012,"d":"r"},{"k":49,"v":0.295,"d":"r"},{"k":49,"v":-0.123,"d":"g"},{"k":50,"v":0.203,"d":"r"},{"k":50,"v":-0.104,"d":"r"},{"k":51,"v":0.111,"d":"r"},{"k":51,"v":-0.012,"d":"r"},
      {"k":52,"v":0.074,"d":"r"},{"k":52,"v":-0.104,"d":"g"},{"k":53,"v":0.092,"d":"g"},{"k":53,"v":-0.233,"d":"g"},{"k":54,"v":0.055,"d":"r"},{"k":54,"v":-0.233,"d":"g"},{"k":55,"v":0.037,"d":"r"},{"k":55,"v":-0.178,"d":"r"},
      {"k":56,"v":0.092,"d":"g"},{"k":56,"v":-0.160,"d":"r"},{"k":57,"v":0.092,"d":"g"},{"k":57,"v":-0.141,"d":"r"},{"k":58,"v":0.092,"d":"r"},{"k":58,"v":-0.104,"d":"r"},{"k":59,"v":0.074,"d":"r"},{"k":59,"v":-0.068,"d":"r"},
      {"k":60,"v":0.074,"d":"r"},{"k":60,"v":-0.012,"d":"r"},{"k":61,"v":0.055,"d":"r"},{"k":61,"v":-0.012,"d":"g"},{"k":62,"v":0.025,"d":"r"},{"k":62,"v":-0.018,"d":"g"},{"k":63,"v":0.031,"d":"g"},{"k":63,"v":-0.049,"d":"g"},
      {"k":64,"v":0.037,"d":"g"},{"k":64,"v":-0.031,"d":"r"},{"k":65,"v":0.055,"d":"g"},{"k":65,"v":-0.012,"d":"g"},{"k":66,"v":0.055,"d":"g"},{"k":66,"v":-0.031,"d":"g"},{"k":67,"v":0.055,"d":"r"},{"k":67,"v":-0.004,"d":"g"},
      {"k":68,"v":0.055,"d":"r"},{"k":68,"v":-0.012,"d":"r"},{"k":69,"v":0.025,"d":"r"},{"k":69,"v":-0.012,"d":"r"},{"k":70,"v":0.018,"d":"r"},{"k":70,"v":-0.068,"d":"g"},{"k":71,"v":0.025,"d":"g"},{"k":71,"v":-0.178,"d":"g"},
      {"k":72,"v":0.037,"d":"g"},{"k":72,"v":-0.215,"d":"g"},{"k":73,"v":0.111,"d":"g"},{"k":73,"v":-0.196,"d":"r"},{"k":74,"v":0.184,"d":"g"},{"k":74,"v":-0.178,"d":"r"},{"k":75,"v":0.203,"d":"g"},{"k":75,"v":-0.123,"d":"r"},
      {"k":76,"v":0.190,"d":"r"},{"k":76,"v":-0.123,"d":"r"},{"k":77,"v":0.172,"d":"r"},{"k":77,"v":-0.160,"d":"g"},{"k":78,"v":0.140,"d":"r"},{"k":78,"v":-0.160,"d":"g"},{"k":79,"v":0.166,"d":"g"},{"k":79,"v":-0.178,"d":"g"},
      {"k":80,"v":0.184,"d":"g"},{"k":80,"v":-0.141,"d":"r"},{"k":81,"v":0.203,"d":"g"},{"k":81,"v":-0.068,"d":"r"},{"k":82,"v":0.203,"d":"r"},{"k":82,"v":-0.068,"d":"r"},{"k":83,"v":0.147,"d":"r"},{"k":83,"v":-0.141,"d":"g"},
      {"k":84,"v":0.147,"d":"r"},{"k":84,"v":-0.160,"d":"g"},{"k":85,"v":0.166,"d":"g"},{"k":85,"v":-0.141,"d":"r"},{"k":86,"v":0.203,"d":"g"},{"k":86,"v":-0.160,"d":"g"},{"k":87,"v":0.221,"d":"g"},{"k":87,"v":-0.178,"d":"g"},
      {"k":88,"v":0.221,"d":"g"},{"k":88,"v":-0.160,"d":"r"},{"k":89,"v":0.239,"d":"g"},{"k":89,"v":-0.141,"d":"r"},{"k":90,"v":0.239,"d":"r"},{"k":90,"v":-0.160,"d":"g"},{"k":91,"v":0.239,"d":"r"},{"k":91,"v":-0.178,"d":"g"},
      {"k":92,"v":0.239,"d":"g"},{"k":92,"v":-0.141,"d":"r"},{"k":93,"v":0.239,"d":"g"},{"k":93,"v":-0.068,"d":"r"},{"k":94,"v":0.239,"d":"r"},{"k":94,"v":-0.104,"d":"g"},{"k":95,"v":0.184,"d":"r"},{"k":95,"v":-0.252,"d":"g"},
      {"k":96,"v":0.203,"d":"g"},{"k":96,"v":-0.289,"d":"g"},{"k":97,"v":0.258,"d":"g"},{"k":97,"v":-0.270,"d":"r"},{"k":98,"v":0.332,"d":"g"},{"k":98,"v":-0.233,"d":"r"},{"k":99,"v":0.368,"d":"g"},{"k":99,"v":-0.178,"d":"r"},
      {"k":100,"v":0.332,"d":"r"},{"k":100,"v":-0.178,"d":"r"},{"k":101,"v":0.313,"d":"r"},{"k":101,"v":-0.160,"d":"r"},{"k":102,"v":0.295,"d":"r"},{"k":102,"v":-0.104,"d":"r"},{"k":103,"v":0.276,"d":"r"},{"k":103,"v":-0.086,"d":"g"},
      {"k":104,"v":0.239,"d":"r"},{"k":104,"v":-0.086,"d":"g"},{"k":105,"v":0.221,"d":"r"},{"k":105,"v":-0.104,"d":"g"},{"k":106,"v":0.203,"d":"r"},{"k":106,"v":-0.123,"d":"g"},{"k":107,"v":0.203,"d":"g"},{"k":107,"v":-0.160,"d":"g"},
      {"k":108,"v":0.221,"d":"g"},{"k":108,"v":-0.160,"d":"g"},{"k":109,"v":0.221,"d":"g"},{"k":109,"v":-0.215,"d":"g"},{"k":110,"v":0.258,"d":"g"},{"k":110,"v":-0.289,"d":"g"},{"k":111,"v":0.295,"d":"g"},{"k":111,"v":-0.381,"d":"g"},
      {"k":112,"v":0.356,"d":"g"},{"k":112,"v":-0.418,"d":"g"},{"k":113,"v":0.424,"d":"g"},{"k":113,"v":-0.399,"d":"r"},{"k":114,"v":0.479,"d":"g"},{"k":114,"v":-0.362,"d":"r"},{"k":115,"v":0.497,"d":"g"},{"k":115,"v":-0.270,"d":"r"},
      {"k":116,"v":0.479,"d":"r"},{"k":116,"v":-0.160,"d":"r"},{"k":117,"v":0.424,"d":"r"},{"k":117,"v":-0.104,"d":"g"},{"k":118,"v":0.350,"d":"r"},{"k":118,"v":-0.123,"d":"g"},{"k":119,"v":0.276,"d":"r"},{"k":119,"v":-0.141,"d":"g"},
      {"k":120,"v":0.276,"d":"r"},{"k":120,"v":-0.068,"d":"r"},{"k":121,"v":0.276,"d":"g"},{"k":121,"v":-0.031,"d":"r"},{"k":122,"v":0.239,"d":"r"},{"k":122,"v":-0.049,"d":"g"},{"k":123,"v":0.221,"d":"r"},{"k":123,"v":-0.086,"d":"g"},
      {"k":124,"v":0.221,"d":"r"},{"k":124,"v":-0.068,"d":"r"},{"k":125,"v":0.221,"d":"g"},{"k":125,"v":-0.049,"d":"g"},{"k":126,"v":0.221,"d":"r"},{"k":126,"v":-0.049,"d":"g"},{"k":127,"v":0.184,"d":"r"},{"k":127,"v":-0.086,"d":"g"},
      {"k":128,"v":0.184,"d":"r"},{"k":128,"v":-0.141,"d":"g"},{"k":129,"v":0.184,"d":"g"},{"k":129,"v":-0.104,"d":"r"},{"k":130,"v":0.221,"d":"g"},{"k":130,"v":-0.012,"d":"r"},{"k":131,"v":0.221,"d":"r"},{"k":131,"v":-0.068,"d":"g"},
      {"k":132,"v":0.166,"d":"r"},{"k":132,"v":-0.086,"d":"g"},{"k":133,"v":0.074,"d":"r"},{"k":133,"v":-0.049,"d":"r"},{"k":134,"v":0.025,"d":"r"},{"k":134,"v":-0.012,"d":"r"},{"k":135,"v":0.037,"d":"g"},{"k":135,"v":-0.031,"d":"g"},
      {"k":136,"v":0.055,"d":"g"},{"k":136,"v":-0.012,"d":"g"},{"k":137,"v":0.111,"d":"g"},{"k":137,"v":-0.049,"d":"g"},{"k":138,"v":0.111,"d":"g"},{"k":138,"v":-0.012,"d":"r"},{"k":139,"v":0.129,"d":"g"},{"k":139,"v":-0.012,"d":"g"},
      {"k":140,"v":0.092,"d":"r"},{"k":140,"v":-0.049,"d":"g"},{"k":141,"v":0.074,"d":"r"},{"k":141,"v":-0.086,"d":"g"},{"k":142,"v":0.092,"d":"g"},{"k":142,"v":-0.104,"d":"g"},{"k":143,"v":0.129,"d":"g"},{"k":143,"v":-0.012,"d":"r"},
      {"k":144,"v":0.144,"d":"g"}
    ]
  },
  "vconcat": [
    {
      "width": 1235,
      "height": 483,
      "layer": [
        {
          "data": {"name": "candles"},
          "mark": {"type": "rule", "color": "black", "strokeWidth": 1, "clip": true},
          "encoding": {
            "x": {"field": "k", "type": "quantitative", "title": null,
              "scale": {"domain": [-0.04, 154.33], "nice": false, "zero": false},
              "axis": {"values": [0,4,8,12,16,20,24,28,32,36,40,44,48,52,56,60,64,68,72,76,80,84,88,92,96,100,104,108,112,116,120,124,128,132,136,140,144,148,152], "labels": false, "ticks": false, "grid": true, "title": null}},
            "y": {"field": "l", "type": "quantitative", "title": null,
              "scale": {"domain": [77.702, 81.895], "nice": false, "zero": false},
              "axis": {"orient": "right", "values": [78, 78.3, 78.6, 78.9, 79.2, 79.5, 79.8, 80.1, 80.4, 80.7, 81, 81.3, 81.6], "format": ".2f", "grid": true, "tickSize": 4, "labelPadding": 2, "title": null}},
            "y2": {"field": "h"}
          }
        },
        {
          "data": {"name": "candles"},
          "mark": {"type": "bar", "width": 4, "stroke": "black", "strokeWidth": 1, "clip": true},
          "encoding": {
            "x": {"field": "k", "type": "quantitative", "scale": {"domain": [-0.04, 154.33], "nice": false, "zero": false}},
            "y": {"field": "o", "type": "quantitative", "scale": {"domain": [77.702, 81.895], "nice": false, "zero": false}},
            "y2": {"field": "c"},
            "fill": {"condition": {"test": "datum.c >= datum.o", "value": "white"}, "value": "black"}
          }
        },
        {
          "data": {"name": "alligator"},
          "mark": {"type": "line", "strokeWidth": 2, "interpolate": "monotone", "clip": true},
          "encoding": {
            "x": {"field": "k", "type": "quantitative", "scale": {"domain": [-0.04, 154.33], "nice": false, "zero": false}},
            "y": {"field": "v", "type": "quantitative", "scale": {"domain": [77.702, 81.895], "nice": false, "zero": false}},
            "color": {"field": "s", "type": "nominal", "legend": null,
              "scale": {"domain": ["jaw", "teeth", "lips"], "range": ["#0a4fd8", "#ff0000", "#2ec62e"]}}
          }
        },
        {
          "data": {"name": "price"},
          "mark": {"type": "rule", "color": "#e00000", "strokeWidth": 1, "clip": true},
          "encoding": {
            "x": {"datum": 0, "type": "quantitative"},
            "x2": {"datum": 154.33},
            "y": {"field": "p", "type": "quantitative", "scale": {"domain": [77.702, 81.895], "nice": false, "zero": false}}
          }
        },
        {
          "data": {"name": "fractals"},
          "mark": {"type": "point", "filled": true, "size": 110, "color": "#262626", "opacity": 1, "clip": true},
          "encoding": {
            "x": {"field": "k", "type": "quantitative", "scale": {"domain": [-0.04, 154.33], "nice": false, "zero": false}},
            "y": {"field": "v", "type": "quantitative", "scale": {"domain": [77.702, 81.895], "nice": false, "zero": false}},
            "shape": {"field": "t", "type": "nominal", "legend": null,
              "scale": {"domain": ["up", "dn"], "range": ["M0,-1L0.8,0.9L0,0.35L-0.8,0.9Z", "M0,1L0.8,-0.9L0,-0.35L-0.8,-0.9Z"]}}
          }
        },
        {
          "data": {"name": "signal"},
          "mark": {"type": "point", "shape": "M-0.39,-1L0.39,-1L0.39,0.16L0.89,0.16L0,1L-0.89,0.16L-0.39,0.16Z", "size": 324, "filled": true, "fill": "#ffd6d6", "stroke": "#ff2020", "strokeWidth": 1.5, "opacity": 1},
          "encoding": {
            "x": {"field": "k", "type": "quantitative", "scale": {"domain": [-0.04, 154.33], "nice": false, "zero": false}},
            "y": {"field": "v", "type": "quantitative", "scale": {"domain": [77.702, 81.895], "nice": false, "zero": false}}
          }
        },
        {
          "data": {"name": "price"},
          "mark": {"type": "rect", "color": "#cc0000", "clip": false},
          "encoding": {
            "x": {"datum": 154.6, "type": "quantitative"},
            "x2": {"datum": 158.3},
            "y": {"datum": 78.138, "type": "quantitative"},
            "y2": {"datum": 78.225}
          }
        },
        {
          "data": {"name": "price"},
          "mark": {"type": "text", "color": "white", "font": "Liberation Sans", "fontSize": 10, "align": "center", "baseline": "middle", "clip": false},
          "encoding": {
            "x": {"datum": 156.45, "type": "quantitative"},
            "y": {"field": "p", "type": "quantitative"},
            "text": {"field": "label"}
          }
        }
      ]
    },
    {
      "width": 1235,
      "height": 101,
      "layer": [
        {
          "data": {"name": "ao"},
          "mark": {"type": "bar", "width": 4, "clip": true},
          "encoding": {
            "x": {"field": "k", "type": "quantitative", "title": null,
              "scale": {"domain": [-0.04, 154.33], "nice": false, "zero": false},
              "axis": {"values": [0,4,8,12,16,20,24,28,32,36,40,44,48,52,56,60,64,68,72,76,80,84,88,92,96,100,104,108,112,116,120,124,128,132,136,140,144,148,152], "labels": false, "ticks": false, "grid": true, "title": null}},
            "y": {"field": "v", "type": "quantitative", "title": null,
              "scale": {"domain": [-1.275, 1.716], "nice": false, "zero": false},
              "axis": {"orient": "right", "values": [-1.275, 0, 1.716], "format": ".3f", "labelFlush": true, "tickSize": 4, "labelPadding": 2, "grid": true,
                "gridOpacity": {"condition": {"test": "datum.value === 0", "value": 1}, "value": 0}, "title": null}},
            "y2": {"datum": 0},
            "color": {"field": "d", "type": "nominal", "legend": null, "scale": {"domain": ["g", "r"], "range": ["#008000", "#ff0000"]}}
          }
        },
        {
          "data": {"values": [{"label": "AO -0.077"}]},
          "mark": {"type": "text", "align": "left", "baseline": "middle", "font": "Liberation Sans", "fontSize": 9.5, "color": "black"},
          "encoding": {
            "x": {"datum": 0.46, "type": "quantitative"},
            "y": {"datum": 1.45, "type": "quantitative"},
            "text": {"field": "label"}
          }
        }
      ]
    },
    {
      "width": 1235,
      "height": 101,
      "layer": [
        {
          "data": {"name": "ac"},
          "mark": {"type": "bar", "width": 4, "clip": true},
          "encoding": {
            "x": {"field": "k", "type": "quantitative", "title": null,
              "scale": {"domain": [-0.04, 154.33], "nice": false, "zero": false},
              "axis": {"values": [0,4,8,12,16,20,24,28,32,36,40,44,48,52,56,60,64,68,72,76,80,84,88,92,96,100,104,108,112,116,120,124,128,132,136,140,144,148,152], "labels": false, "ticks": false, "grid": true, "title": null}},
            "y": {"field": "v", "type": "quantitative", "title": null,
              "scale": {"domain": [-0.414, 0.5008], "nice": false, "zero": false},
              "axis": {"orient": "right", "values": [-0.414, 0, 0.5008], "format": ".4f", "labelFlush": true, "tickSize": 4, "labelPadding": 2, "grid": true,
                "gridOpacity": {"condition": {"test": "datum.value === 0", "value": 1}, "value": 0}, "title": null}},
            "y2": {"datum": 0},
            "color": {"field": "d", "type": "nominal", "legend": null, "scale": {"domain": ["g", "r"], "range": ["#008000", "#ff0000"]}}
          }
        },
        {
          "data": {"values": [{"label": "AC -0.0101"}]},
          "mark": {"type": "text", "align": "left", "baseline": "middle", "font": "Liberation Sans", "fontSize": 9.5, "color": "black"},
          "encoding": {
            "x": {"datum": 0.46, "type": "quantitative"},
            "y": {"datum": 0.41, "type": "quantitative"},
            "text": {"field": "label"}
          }
        }
      ]
    },
    {
      "width": 1235,
      "height": 84,
      "layer": [
        {
          "data": {"name": "gator"},
          "mark": {"type": "bar", "width": 4, "clip": true},
          "encoding": {
            "x": {"field": "k", "type": "quantitative", "title": null,
              "scale": {"domain": [-0.04, 154.33], "nice": false, "zero": false},
              "axis": {"values": [0,4,8,12,16,20,24,28,32,36,40,44,48,52,56,60,64,68,72,76,80,84,88,92,96,100,104,108,112,116,120,124,128,132,136,140,144,148,152],
                "grid": true, "title": null, "labelAlign": "left", "labelBaseline": "top", "labelPadding": 1, "labelFlush": false, "labelOverlap": false, "tickSize": 4,
                "tickOpacity": {"condition": {"test": "datum.value % 8 === 0", "value": 1}, "value": 0},
                "labelExpr": "datum.value % 8 === 0 ? ['14 Jan 2025','14 Jan 18:00','15 Jan 05:00','15 Jan 13:00','15 Jan 21:00','16 Jan 08:00','16 Jan 16:00','17 Jan 03:00','17 Jan 11:00','17 Jan 19:00','20 Jan 04:00','20 Jan 12:00','20 Jan 20:00','21 Jan 09:00','21 Jan 17:00','22 Jan 04:00','22 Jan 12:00','22 Jan 20:00',''][datum.value / 8] : ''"}},
            "y": {"field": "v", "type": "quantitative", "title": null,
              "scale": {"domain": [-0.8, 0.753], "nice": false, "zero": false},
              "axis": {"orient": "right", "values": [-0.8, 0, 0.753], "format": ".3f", "labelFlush": true, "tickSize": 4, "labelPadding": 2, "grid": true, "zindex": 1,
                "gridColor": "#e8e8e8",
                "gridOpacity": {"condition": {"test": "datum.value === 0", "value": 1}, "value": 0}, "title": null}},
            "y2": {"datum": 0},
            "color": {"field": "d", "type": "nominal", "legend": null, "scale": {"domain": ["g", "r"], "range": ["#008000", "#ff0000"]}}
          }
        },
        {
          "data": {"values": [{"label": "Gator(13,8,5) 0.144 0.000"}]},
          "mark": {"type": "text", "align": "left", "baseline": "middle", "font": "Liberation Sans", "fontSize": 9.5, "color": "black"},
          "encoding": {
            "x": {"datum": 0.46, "type": "quantitative"},
            "y": {"datum": 0.574, "type": "quantitative"},
            "text": {"field": "label"}
          }
        }
      ]
    }
  ],
  "config": {
    "font": "Liberation Sans",
    "view": {"stroke": "black", "strokeWidth": 1},
    "locale": {"number": {"decimal": ".", "thousands": ",", "grouping": [3], "currency": ["", ""], "minus": "-"}},
    "axis": {"labelFont": "Liberation Sans", "labelFontSize": 9, "labelColor": "black", "tickColor": "black", "domain": false,
      "gridColor": "#d2d2d2", "gridDash": [3, 3], "gridWidth": 1}
  }
}
